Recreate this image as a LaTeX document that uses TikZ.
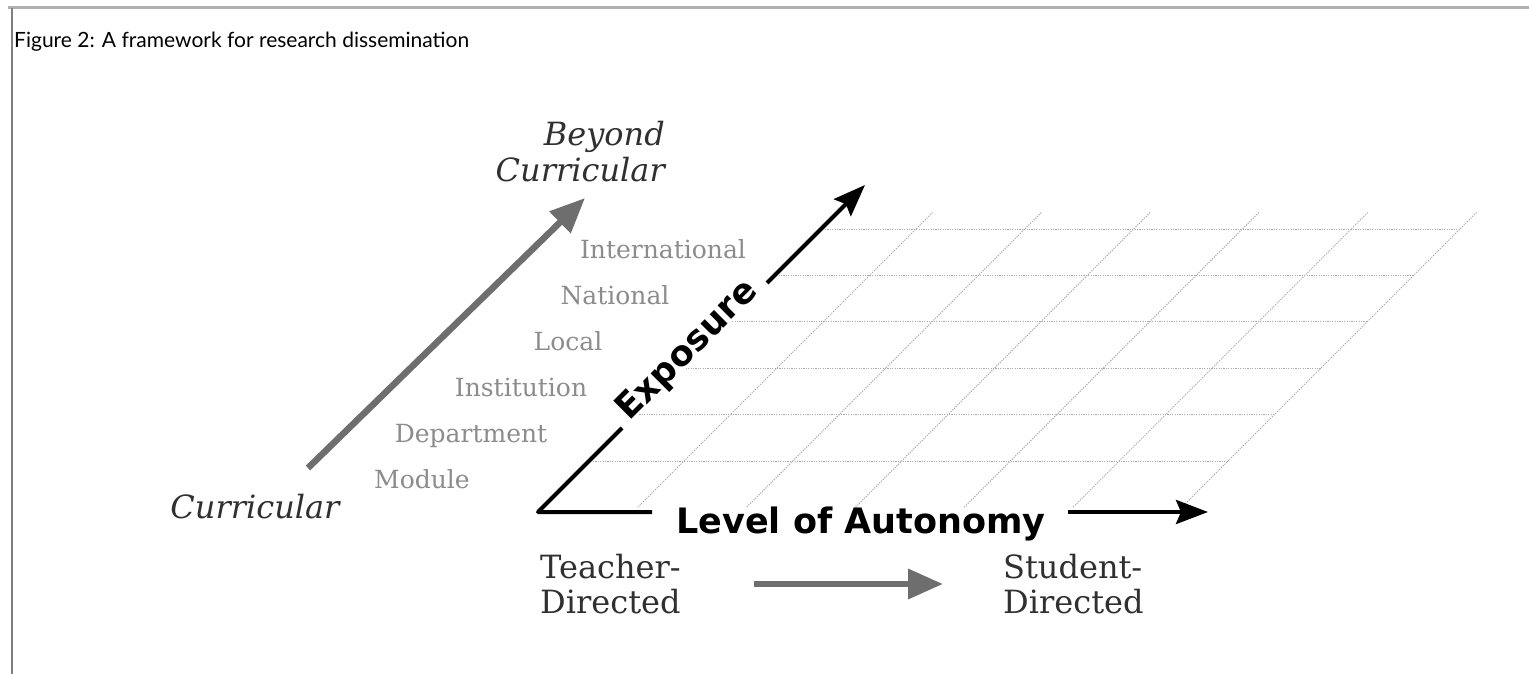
\documentclass[tikz,border=0pt]{standalone}
\usepackage{fontspec}
\usetikzlibrary{arrows.meta}
\newfontfamily\dvserif{DejaVu Serif}
\newfontfamily\dvsans{DejaVu Sans}
\newfontfamily\ttlfont{Lato}
\definecolor{arrowgray}{HTML}{6E6E6E}
\definecolor{labelgray}{HTML}{8C8C8C}
\definecolor{gridgray}{HTML}{ABABAB}
\definecolor{framegray}{HTML}{B0B0B0}
\definecolor{framedark}{HTML}{808080}
\definecolor{txtdark}{HTML}{303030}
\begin{document}
\begin{tikzpicture}[x=1pt,y=-1pt,
  gridline/.style={gridgray, line width=1pt, dash pattern=on 1.2pt off 1.2pt},
  axisline/.style={black, line width=4pt, line join=round},
  axisarrow/.style={axisline, -{Stealth[length=32pt,width=24pt,inset=5pt]}},
  grayarrow/.style={arrowgray, line width=6.5pt, -{Triangle[length=35pt,width=29pt]}},
  levellabel/.style={font=\dvserif\fontsize{25}{28}\selectfont, text=labelgray, inner sep=0pt, anchor=base},
  axislabel/.style={font=\dvsans\bfseries\fontsize{35}{40}\selectfont, inner sep=0pt},
  poletext/.style={font=\dvserif\fontsize{32}{35}\selectfont, text=txtdark, inner sep=0pt, align=left},
  curtext/.style={font=\dvserif\itshape\fontsize{32}{36}\selectfont, text=txtdark, inner sep=0pt},
]
\useasboundingbox (0,0) rectangle (1529,674);
\fill[white] (0,0) rectangle (1529,674);

% frame
\draw[framegray, line width=3pt] (8,8) -- (1529,8);
\draw[framedark, line width=2.5pt] (12,8) -- (12,674);

% title
\node[font=\ttlfont\fontsize{21}{26}\selectfont, anchor=base west, inner sep=0pt] (title) at (14,48) {Figure 2: A framework for research dissemination};

% grid
\foreach \j in {0,...,5} {
  \pgfmathsetmacro\yy{229+46.4*\j}
  \draw[gridline] ({538+(512-\yy)+4},\yy) -- ({1182+(507.4-\yy)},\yy);
}
\foreach \k in {0,...,5} {
  \pgfmathsetmacro\xb{638+108.8*\k}
  \draw[gridline] (\xb,507) -- ({\xb+295},212);
}

% axes
\coordinate (O) at (538,512);
\coordinate (A1) at (652,512);
\coordinate (A2) at (1068,512);
\coordinate (Xtip) at (1208,512);
\coordinate (E1) at (622,428);
\coordinate (E2) at (767,283);
\coordinate (Ytip) at (865,185);
\draw[axisline] (E1) -- (O) -- (A1);
\draw[axisarrow] (A2) -- (Xtip);
\draw[axisarrow] (E2) -- (Ytip);
\node[axislabel, anchor=base] (autonomy) at (861,533) {Level of Autonomy};
\node[axislabel, rotate=45] (exposure) at (688,351) {Exposure};

% curricular axis
\node[curtext, anchor=base] (curr) at (255,518) {Curricular};
\node[curtext, align=right, anchor=base east] (beyond) at (665,182) {Beyond\\Curricular};
\coordinate (C1) at (308,468);
\coordinate (C2) at (585,198);
\draw[grayarrow] (C1) -- (C2);

% levels
\node[levellabel] (module) at (422,488) {Module};
\node[levellabel] (department) at (471,442) {Department};
\node[levellabel] (institution) at (521,396) {Institution};
\node[levellabel] (local) at (568,350) {Local};
\node[levellabel] (national) at (615,304) {National};
\node[levellabel] (international) at (663,258) {International};

% teacher / student
\node[poletext, anchor=west] (teacher) at (540,584) {Teacher-\\Directed};
\node[poletext, anchor=west] (student) at (1003,584) {Student-\\Directed};
\draw[grayarrow] ([xshift=73pt]teacher.east) -- ([xshift=-60pt]student.west);
\end{tikzpicture}
\end{document}
